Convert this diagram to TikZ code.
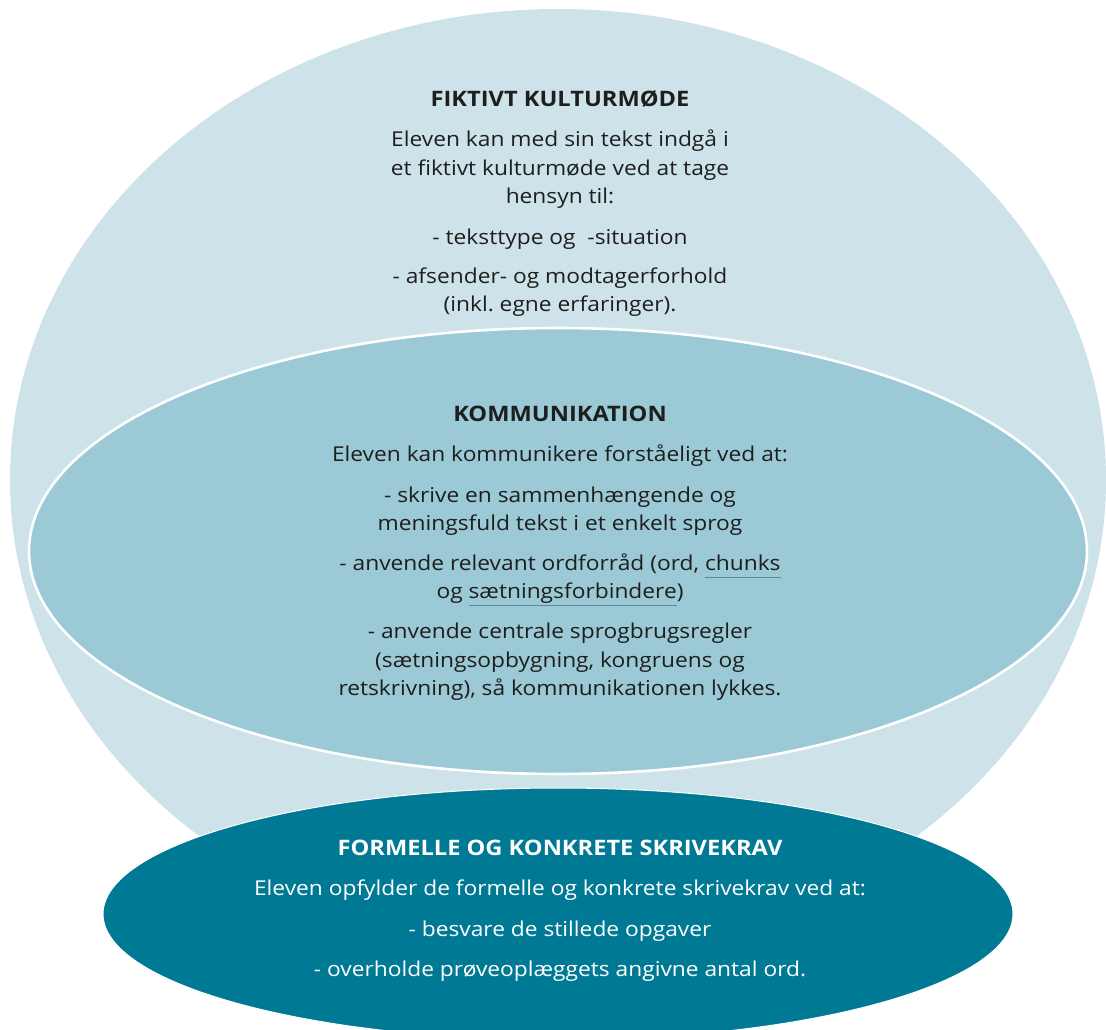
\documentclass[tikz,border=0pt]{standalone}
\usepackage{fontspec}
\setmainfont{Open Sans}[FakeStretch=1.11]
\usetikzlibrary{shapes.geometric}
\frenchspacing
\definecolor{outerc}{HTML}{CDE3E9}
\definecolor{midc}{HTML}{9BC9D5}
\definecolor{lowc}{HTML}{007995}
\definecolor{txtc}{HTML}{1E1E1E}
\definecolor{ulcol}{HTML}{5E8793}
\newcommand\myul[1]{\setbox0\hbox{#1}\rlap{\color{ulcol}\rule[-8pt]{\wd0}{1.5pt}}\box0}
\tikzset{
  blob/.style={ellipse, inner sep=0pt, outer sep=0pt},
  line/.style={anchor=base, inner sep=0pt, font=\fontsize{20.5}{24}\selectfont\frenchspacing, text=txtc},
  head/.style={line, font=\fontsize{21.3}{24}\selectfont\bfseries},
  wline/.style={line, text=white},
  whead/.style={head, text=white},
}
\begin{document}
\begin{tikzpicture}[x=1pt, y=-1pt]
\useasboundingbox (0,0) rectangle (1106,1030);
\clip (0,0) rectangle (1106,1030);
\node[blob, fill=outerc, minimum width=1096pt, minimum height=942pt] (outer) at (558,480) {};
\node[blob, fill=midc, draw=white, line width=2.6pt, minimum width=1058pt, minimum height=446pt] (mid) at (558,551) {};
\node[blob, fill=lowc, draw=white, line width=1pt, minimum width=910pt, minimum height=252pt] (low) at (558,914) {};
% top
\node[head] (t1) at (560,106.7) {FIKTIVT KULTURMØDE};
\node[line] (t2) at (560,146.7) {Eleven kan med sin tekst indgå i};
\node[line] (t3) at (560,175.5) {et fiktivt kulturmøde ved at tage};
\node[line] (t4) at (560,203) {hensyn til:};
\node[line] (t5) at (560,244) {- teksttype og~ -situation};
\node[line] (t6) at (560,283) {- afsender- og modtagerforhold};
\node[line] (t7) at (560,311.7) {(inkl. egne erfaringer).};
% middle
\node[head] (m1) at (560,421.7) {KOMMUNIKATION};
\node[line] (m2) at (560,461.7) {Eleven kan kommunikere forståeligt ved at:};
\node[line] (m3) at (560,502.3) {- skrive en sammenhængende og};
\node[line] (m4) at (560,530) {meningsfuld tekst i et enkelt sprog};
\node[line] (m5) at (560,570) {- anvende relevant ordforråd (ord, \myul{chunks}};
\node[line] (m6) at (560,598.3) {og \myul{sætningsforbindere})};
\node[line] (m7) at (560,638.3) {- anvende centrale sprogbrugsregler};
\node[line] (m8) at (560,667.7) {(sætningsopbygning, kongruens og};
\node[line] (m9) at (560,695) {retskrivning), så kommunikationen lykkes.};
% bottom
\node[whead] (b1) at (560,855) {FORMELLE OG KONKRETE SKRIVEKRAV};
\node[wline] (b2) at (560,895.7) {Eleven opfylder de formelle og konkrete skrivekrav ved at:};
\node[wline] (b3) at (560,936) {- besvare de stillede opgaver};
\node[wline] (b4) at (560,976) {- overholde prøveoplæggets angivne antal ord.};
\end{tikzpicture}
\end{document}
